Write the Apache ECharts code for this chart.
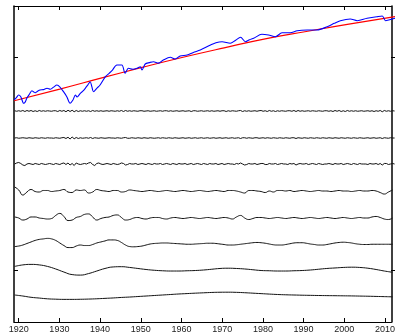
<!DOCTYPE html>
<html><head><meta charset="utf-8">
<script src="https://cdn.jsdelivr.net/npm/echarts@6/dist/echarts.min.js"></script>
<style>html,body{margin:0;padding:0;background:#fff}#c{width:398px;height:336px}</style>
</head><body><div id="c"></div>
<script>
// ---------------- DATA ----------------
const tickYears = [1920,1930,1940,1950,1960,1970,1980,1990,2000,2010];

const blueYears = [1918.9,1919.5,1919.95,1920.5,1921.2,1921.6,1922.0,1922.6,1923.2,1923.6,1924.0,1924.6,1925.2,1926.0,1926.9,1927.7,1928.5,1929.3,1930.1,1930.9,1931.7,1932.5,1933.2,1933.8,1934.2,1935.0,1935.6,1936.2,1936.8,1937.4,1937.8,1938.2,1939.0,1939.8,1941.1,1942.0,1942.7,1943.9,1945.1,1945.9,1946.7,1947.8,1948.8,1949.6,1950.0,1950.8,1951.8,1952.8,1954.0,1955.2,1956.9,1958.1,1959.3,1961.0,1962.5,1964.2,1966.7,1968.0,1969.5,1971.5,1972.8,1974.0,1975.2,1976.2,1977.2,1979.2,1980.8,1982.5,1984.1,1986.1,1987.8,1990.2,1992.6,1995.1,1996.8,1998.3,2000.7,2002.4,2004.8,2007.2,2008.5,2009.3,2010.1,2011.6];
const blueVals = [0.157,0.21,0.255,0.222,0.092,0.12,0.196,0.27,0.339,0.32,0.300,0.33,0.353,0.36,0.386,0.367,0.41,0.451,0.406,0.320,0.222,0.092,0.157,0.255,0.216,0.288,0.33,0.386,0.45,0.516,0.42,0.320,0.386,0.451,0.614,0.68,0.731,0.843,0.843,0.680,0.778,0.76,0.778,0.810,0.745,0.863,0.89,0.908,0.88,0.941,0.994,0.961,1.020,1.039,1.09,1.137,1.235,1.28,1.300,1.269,1.33,1.386,1.300,1.34,1.367,1.445,1.431,1.398,1.476,1.476,1.516,1.529,1.529,1.594,1.66,1.712,1.745,1.712,1.759,1.790,1.804,1.712,1.725,1.759];

const trendYears = [1918.9,1930,1940,1950,1960,1970,1980,1990,2000,2011.6];
const trendVals  = [0.143,0.37,0.585,0.795,0.995,1.18,1.355,1.50,1.64,1.79];

// components 1..3: two samples per year, 1919.0 .. 2011.5
const imf1 = [
0.005,-0.005, 0.005,-0.005, 0.01,-0.01, 0.01,-0.005, 0.01,-0.01, 0.005,-0.01, 0.01,-0.005, 0.005,-0.005, 0.005,0, -0.005,0.005,
0.005,-0.01, 0.01,-0.005, 0.01,-0.015, 0.015,-0.01, 0.015,-0.015, 0.01,-0.01, 0.005,-0.005, 0.005,-0.005, 0.005,-0.01, 0.01,-0.005,
0.005,-0.005, 0.005,-0.005, 0,0.005, -0.005,0.005, 0,-0.005, 0.005,-0.005, 0.01,-0.01, 0.01,-0.005, 0.005,-0.005, 0.005,0,
-0.005,0.005, 0.005,-0.005, 0,0.005, -0.005,0, 0.005,-0.005, 0,0.005, -0.005,0.005, 0.005,-0.005, 0.005,-0.005, 0,0.005,
-0.005,0, 0.005,-0.005, 0,0.005, -0.01,0.005, 0.005,-0.005, 0,0.005, -0.005,0, 0.005,-0.005, 0.005,-0.005, 0,0.005,
-0.005,0.005, 0.005,-0.01, 0.005,-0.005, 0.005,0, -0.005,0.005, 0.01,-0.01, 0.005,-0.005, 0.005,-0.005, 0,0.005, -0.005,0.005,
0.01,-0.005, 0.005,-0.01, 0.01,-0.005, 0.005,-0.01, 0.005,-0.005, 0.005,0, -0.005,0.005, 0.005,-0.005, 0.01,-0.01, 0.01,-0.005,
0.005,-0.005, 0,0.005, -0.005,0.005, 0,-0.005, 0.005,0, -0.005,0.005, 0.005,-0.005, 0.005,-0.01, 0.01,-0.005, 0.01,-0.01,
0.005,-0.01, 0.01,-0.005, 0.005,-0.005, 0.005,-0.005, 0,0.005, -0.005,0, 0.005,-0.005, 0.005,-0.01, 0.005,-0.005, 0.01,-0.015,
0.01,-0.005, 0.005,-0.005, 0.005,0];
const imf2 = [
0,0.005, -0.005,0, 0.005,0, -0.005,0.005, 0,-0.005, 0.005,0, -0.005,0.005, 0,-0.005, 0.005,0, 0,-0.005,
0.005,0, -0.005,0.005, 0.01,-0.01, 0.015,-0.02, 0.02,-0.015, 0.01,-0.01, 0.005,-0.005, 0,0.005, -0.005,0.01, -0.01,0.005,
0,-0.005, 0.005,0, -0.005,0, 0.005,0, 0,-0.005, 0.005,0, -0.005,0.005, 0.01,-0.005, -0.005,0.005, 0,-0.005,
0.005,0, -0.005,0.005, 0,-0.005, 0.005,0, -0.005,0, 0.005,-0.005, 0.005,0, -0.005,0.005, 0,-0.005, 0.005,0,
-0.005,0, 0.005,-0.005, 0,0.005, -0.005,0, 0.005,-0.005, 0,0.005, -0.005,0, 0.005,-0.005, 0,0.005, -0.005,0,
0.005,-0.005, 0,0.005, -0.005,0, 0.005,-0.005, 0,0.005, -0.01,0.005, 0.005,-0.005, 0.005,0, -0.005,0.005, 0.005,-0.005,
0,0.005, -0.005,0.005, 0,-0.005, 0.005,0, -0.005,0.005, 0,-0.005, 0.005,0, -0.005,0.005, 0.005,-0.01, 0.005,0,
-0.005,0.005, 0,-0.005, 0.005,0, -0.005,0.005, 0,-0.005, 0.005,0, -0.005,0.005, 0,-0.005, 0.005,0, -0.005,0.005,
0,-0.005, 0.005,0, -0.005,0.005, 0,-0.005, 0.005,0, -0.005,0, 0.005,-0.005, 0,0.005, -0.005,0, 0.005,-0.01,
0.005,0, -0.005,0.005, 0,0];
const imf3 = [
0,0.02, 0.03,0.01, -0.02,-0.03, 0,0.01, 0,-0.01, 0.01,0, -0.01,0.01, 0,-0.01, 0,0.01, 0,-0.01,
0.01,0, -0.01,0.01, 0.02,-0.01, 0.02,-0.02, 0.01,-0.03, 0.02,0, -0.01,0, 0.01,0, 0.02,0.03, -0.01,-0.03,
0.01,0.02, 0,-0.01, 0,0.01, 0,-0.01, 0.01,0, -0.01,0, 0.02,0.01, -0.02,-0.01, 0.01,0, 0,0.01,
-0.01,0, 0.01,0, -0.01,0.01, 0,-0.01, 0.01,0, 0,0.01, -0.01,0, 0.01,0, -0.01,0.01, 0,-0.01,
0.01,0, 0,0.01, -0.01,0, 0.01,-0.01, 0,0.01, 0,-0.01, 0.01,0, -0.01,0.01, 0,0, 0.01,-0.01,
0,0.01, -0.01,0, 0.01,0, 0,-0.01, 0.01,0, 0.02,0, -0.02,-0.01, 0.01,0, 0,0.01, -0.01,0,
0.01,0.01, -0.01,-0.01, 0.01,0, 0,0.01, -0.01,0, 0.01,0, 0,-0.01, 0.01,0, 0.01,-0.02, 0,0.01,
0,0, 0.01,-0.01, 0,0.01, 0,-0.01, 0.01,0, -0.01,0, 0,0.01, 0,-0.01, 0.01,0, 0,0.01,
-0.01,0, 0.01,0, -0.01,0.01, 0,-0.01, 0.01,0, 0,0, -0.01,0.01, 0,0, 0.01,-0.01, 0.01,-0.02,
0.01,0.01, -0.01,0, 0.01,0];
// components 4..6: one sample per year, 1919 .. 2011
const imf4 = [
0.08,0.02,-0.08,-0.02,0.03,-0.01,-0.02,0.01,0.01,-0.01,
0,0.01,0.03,-0.02,-0.03,0.02,0.01,0.02,-0.04,-0.02,
0.03,0.01,0,-0.01,0.01,0.01,-0.02,-0.01,0.02,0.01,
0,-0.01,0,0.01,0,-0.01,0,0.01,0,-0.01,
0,0.01,0,-0.01,0,0.01,0,-0.01,0,0.01,
0,-0.01,0.01,0.01,0,-0.02,-0.04,0.01,0.01,0,
-0.01,-0.03,0,-0.02,0.01,0.01,0,0.01,-0.01,0,
0.01,0,-0.01,0,0.01,0,0,-0.01,0,0.01,
0,0,-0.01,0,0.01,0,0,0.01,0,-0.03,
-0.06,-0.02,0.02];
const imf5 = [
0.02,0,-0.04,-0.02,0.02,0.02,0,-0.01,-0.02,-0.01,
0.05,0.09,0.03,-0.05,-0.04,0.01,0.03,0.07,0.08,0.02,
-0.04,-0.01,0.01,0.02,0.05,0.06,0.01,-0.04,-0.03,0,
0.01,-0.01,-0.02,0,0.01,0.01,-0.01,-0.02,0,0.01,
0,-0.01,0,0.01,0,-0.01,0,0.01,0,-0.01,
0,0.01,0,-0.02,0.02,0.05,0,-0.03,-0.01,0.01,
0.01,0,-0.01,0,0.01,0,-0.01,0,0.01,0,
-0.01,0,0.01,0,-0.01,0,0.01,0,-0.01,0,
0.01,0,-0.01,0,0.01,0,0,0.02,0.03,0.01,
-0.02,-0.03,0];
const imf6 = [
-0.05,-0.04,-0.02,0.01,0.04,0.07,0.09,0.10,0.11,0.10,
0.07,0.02,-0.03,-0.07,-0.07,-0.04,-0.02,-0.03,-0.03,-0.01,
0.02,0.04,0.06,0.08,0.08,0.07,0.03,-0.02,-0.05,-0.055,
-0.05,-0.04,-0.02,0,0.01,0.015,0.02,0.02,0.015,0.01,
0.005,0,-0.005,-0.005,0,0.005,0.01,0.015,0.015,0.01,
0,-0.01,-0.02,-0.02,-0.015,-0.005,0.005,0.015,0.025,0.03,
0.025,0.015,0,-0.015,-0.02,-0.02,-0.01,0.005,0.02,0.025,
0.025,0.015,0,-0.01,-0.02,-0.02,-0.01,0.005,0.02,0.03,
0.035,0.03,0.02,0.005,-0.005,-0.01,-0.01,-0.005,-0.005,-0.005,
-0.005,-0.005,-0.005];
// components 7..8: one sample every two years, 1919 .. 2011
const imf7 = [
0.07,0.10,0.11,0.10,0.07,0.02,-0.04,-0.09,-0.10,-0.07,
-0.02,0.03,0.06,0.065,0.05,0.03,0.01,-0.005,-0.015,-0.02,
-0.02,-0.015,-0.01,0,0.015,0.03,0.035,0.03,0.02,0.005,
-0.01,-0.015,-0.02,-0.02,-0.015,-0.01,0,0.015,0.03,0.04,
0.05,0.055,0.05,0.035,0.01,-0.02,-0.045];
const imf8 = [
0,-0.02,-0.045,-0.06,-0.075,-0.082,-0.086,-0.086,-0.084,-0.08,
-0.074,-0.066,-0.058,-0.048,-0.04,-0.03,-0.02,-0.01,0,0.01,
0.02,0.028,0.036,0.043,0.05,0.054,0.055,0.052,0.045,0.036,
0.027,0.018,0.01,0.004,0,-0.004,-0.007,-0.01,-0.012,-0.014,
-0.016,-0.018,-0.021,-0.024,-0.028,-0.032,-0.036];

// ---------------- LAYOUT ----------------
const X_MIN = 1918.85, X_MAX = 2011.6;
const L = 14, R = 3, TOP = 6, BOTTOM = 14;
const baselines = [111, 138, 164, 191, 218, 244, 270, 295];
const IMF_H = 26.5, IMF_R = 0.26;
const comps = [
  {vals: imf1, start: 1919, step: 0.5},
  {vals: imf2, start: 1919, step: 0.5},
  {vals: imf3, start: 1919, step: 0.5},
  {vals: imf4, start: 1919, step: 1},
  {vals: imf5, start: 1919, step: 1},
  {vals: imf6, start: 1919, step: 1},
  {vals: imf7, start: 1919, step: 2},
  {vals: imf8, start: 1919, step: 2}
];

function zip(xs, ys){ return ys.map((v,i)=>[xs[i], v]); }
function sampled(c){ return c.vals.map((v,i)=>[c.start + i*c.step, v]); }

const grids = [], xAxes = [], yAxes = [], series = [];
const hiddenX = gi => ({type:'value', gridIndex:gi, min:X_MIN, max:X_MAX, show:false});

// grid 0: frame
grids.push({left:L, right:R, top:TOP, bottom:BOTTOM});
xAxes.push({type:'value', gridIndex:0, min:X_MIN, max:X_MAX, position:'bottom',
  axisLine:{show:true, onZero:false, lineStyle:{color:'#000', width:1}},
  axisTick:{show:true, inside:true, length:4, customValues:tickYears, lineStyle:{color:'#000'}},
  axisLabel:{show:true, customValues:tickYears, formatter: v => String(v),
    fontFamily:'Liberation Sans, Arial, sans-serif', fontSize:9, color:'#222', margin:3},
  splitLine:{show:false}});
xAxes.push({type:'value', gridIndex:0, min:X_MIN, max:X_MAX, position:'top',
  axisLine:{show:true, onZero:false, lineStyle:{color:'#000', width:1}},
  axisTick:{show:true, inside:true, length:4, customValues:tickYears, lineStyle:{color:'#000'}},
  axisLabel:{show:false}, splitLine:{show:false}});
yAxes.push({type:'value', gridIndex:0, min:0, max:1, position:'left',
  axisLine:{show:true, onZero:false, lineStyle:{color:'#000', width:1.5}},
  axisTick:{show:false}, axisLabel:{show:false}, splitLine:{show:false}});
yAxes.push({type:'value', gridIndex:0, min:0, max:1, position:'right',
  axisLine:{show:true, onZero:false, lineStyle:{color:'#000', width:1.5}},
  axisTick:{show:false}, axisLabel:{show:false}, splitLine:{show:false}});

// grid 1: top panel
grids.push({left:L, right:R, top:TOP, height:102});
xAxes.push(hiddenX(1));
const tickY = (gi, pos, vals, min, max) => ({type:'value', gridIndex:gi, min:min, max:max, position:pos,
  axisLine:{show:false}, axisTick:{show:true, inside:true, length:4, customValues:vals, lineStyle:{color:'#000'}},
  axisLabel:{show:false}, splitLine:{show:false}});
yAxes.push(tickY(1,'left',[1],0,2));
yAxes.push(tickY(1,'right',[1],0,2));
series.push({type:'line', xAxisIndex:2, yAxisIndex:2, data: zip(trendYears, trendVals), smooth:true,
  showSymbol:false, lineStyle:{color:'#ff0000', width:1.2}, z:3});
series.push({type:'line', xAxisIndex:2, yAxisIndex:2, data: zip(blueYears, blueVals), smooth:0.3,
  showSymbol:false, lineStyle:{color:'#0000ff', width:1.1}, z:4});

// component panels
comps.forEach((c, k) => {
  const gi = grids.length;
  grids.push({left:L, right:R, top:baselines[k]-IMF_H/2, height:IMF_H});
  xAxes.push(hiddenX(gi));
  const xi = xAxes.length - 1;
  if (k === 6) {
    yAxes.push(tickY(gi,'left',[0],-IMF_R,IMF_R));
    yAxes.push(tickY(gi,'right',[0],-IMF_R,IMF_R));
  } else {
    yAxes.push({type:'value', gridIndex:gi, min:-IMF_R, max:IMF_R, show:false});
  }
  const yi = k === 6 ? yAxes.length - 2 : yAxes.length - 1;
  series.push({type:'line', xAxisIndex:xi, yAxisIndex:yi, data: sampled(c),
    smooth: k >= 3 ? true : false, showSymbol:false,
    lineStyle:{color:'#111', width:1}});
});

const chart = echarts.init(document.getElementById('c'), null, {renderer:'canvas'});
chart.setOption({animation:false, backgroundColor:'#fff', grid:grids, xAxis:xAxes, yAxis:yAxes, series:series});
</script>
</body></html>
